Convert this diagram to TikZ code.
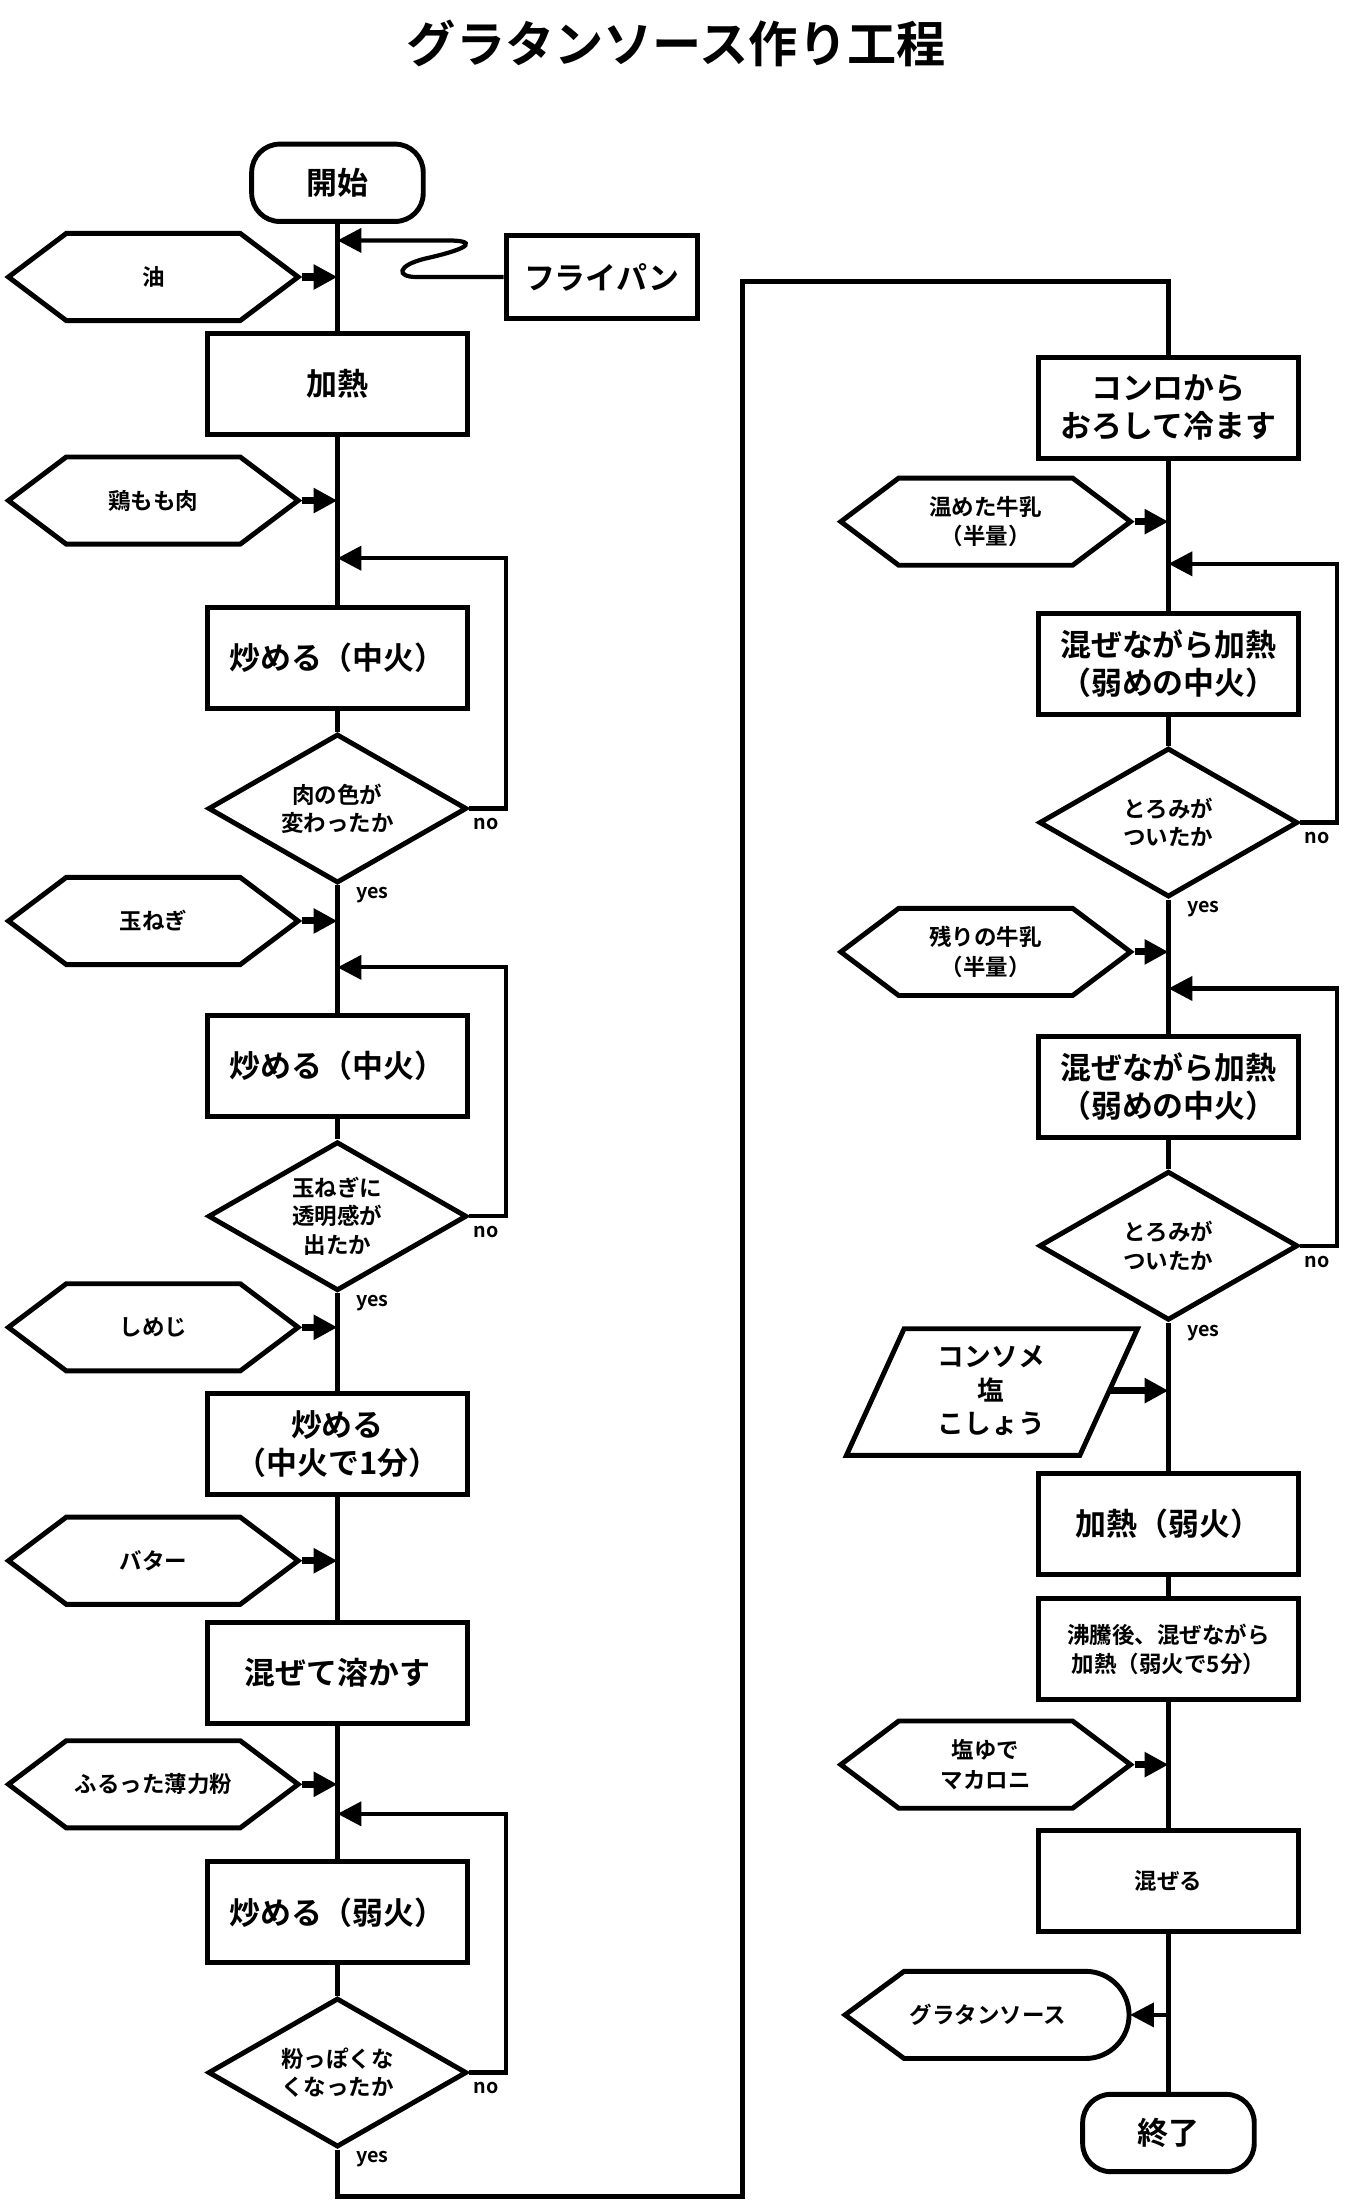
\documentclass[tikz,border=0pt]{standalone}
\usepackage{fontspec}
\setmainfont{Noto Sans CJK JP}[BoldFont={* Bold}]
\usetikzlibrary{arrows.meta,shapes.geometric,shapes.symbols}

\begin{document}
\begin{tikzpicture}[x=1pt,y=-1pt,
    forma/.style={draw,line width=3.5pt,fill=white,align=center,inner sep=0pt,
        font=\bfseries\fontsize{22}{27}\selectfont},
    caja/.style={forma,minimum width=185pt,minimum height=72pt},
    terminal/.style={forma,rounded corners=20pt,minimum width=122pt,minimum height=55pt},
    entrada/.style={forma,signal,signal to=west and east,signal pointer angle=74,
        minimum width=206pt,minimum height=62pt,font=\bfseries\fontsize{16}{21}\selectfont},
    decision/.style={forma,diamond,aspect=1.73,minimum width=184pt,minimum height=106pt,
        font=\bfseries\fontsize{16}{20}\selectfont},
    linea/.style={line width=3.5pt},
    lazo/.style={line width=3pt,-{Triangle[length=17pt,width=17pt]}},
    flecha/.style={line width=5pt,-{Triangle[length=17pt,width=17pt]}},
    etiq/.style={inner sep=0pt,font=\bfseries\fontsize{14}{14}\selectfont},
]

    \def\xa{240}
    \def\xb{831}

    %Fondo
    \fill[white] (0,0) rectangle (958,1567.5);
    \node[font=\bfseries\fontsize{35}{40}\selectfont] (titulo) at (481,31) {グラタンソース作り工程};

    %ColumnaIzq
    \node[terminal] (inicio) at (\xa,130) {開始};
    \node[caja] (calentar) at (\xa,273) {加熱};
    \node[caja] (sofreir1) at (\xa,468) {炒める（中火）};
    \node[decision] (d1) at (\xa,575) {肉の色が\\変わったか};
    \node[caja] (sofreir2) at (\xa,758) {炒める（中火）};
    \node[decision] (d2) at (\xa,865) {玉ねぎに\\透明感が\\出たか};
    \node[caja] (sofreir3) at (\xa,1027) {炒める\\（中火で1分）};
    \node[caja] (derretir) at (\xa,1190) {混ぜて溶かす};
    \node[caja] (sofreir4) at (\xa,1360) {炒める（弱火）};
    \node[decision] (d3) at (\xa,1474) {粉っぽくな\\くなったか};
    \node[forma,minimum width=136pt,minimum height=59pt] (sarten) at (428,197) {フライパン};

    %ColumnaDer
    \node[caja] (enfriar) at (\xb,290) {コンロから\\おろして冷ます};
    \node[caja] (mezclar1) at (\xb,472) {混ぜながら加熱\\（弱めの中火）};
    \node[decision] (d4) at (\xb,585) {とろみが\\ついたか};
    \node[caja] (mezclar2) at (\xb,773) {混ぜながら加熱\\（弱めの中火）};
    \node[decision] (d5) at (\xb,886) {とろみが\\ついたか};
    \node[caja] (calor) at (\xb,1084) {加熱（弱火）};
    \node[caja,font=\bfseries\fontsize{16}{21}\selectfont] (hervir) at (\xb,1173) {沸騰後、混ぜながら\\加熱（弱火で5分）};
    \node[caja,font=\bfseries\fontsize{16}{21}\selectfont] (mezclar) at (\xb,1338) {混ぜる};
    \node[terminal] (fin) at (\xb,1517) {終了};

    %Condimentos
    \draw[line width=3.5pt] (602,1035) -- (643,945) -- (809,945) -- (768,1035) -- cycle;
    \node[inner sep=0pt,minimum width=167pt,align=center,font=\bfseries\fontsize{19}{24}\selectfont] (condimento) at (705,989) {コンソメ\\塩\\こしょう};

    %Salsa
    \draw[line width=3.5pt] (601,1433) -- (643,1402) -- (772,1402) arc[start angle=-90,end angle=90,radius=31] -- (643,1464) -- cycle;
    \node[inner sep=0pt,minimum width=202pt,font=\bfseries\fontsize{16}{21}\selectfont] (salsa) at (702.5,1433) {グラタンソース};

    %Entradas
    \foreach \n/\y/\t in {aceite/197/油, pollo/356/鶏もも肉, cebolla/655/玉ねぎ, shimeji/944/しめじ, mantequilla/1110/バター, harina/1269/ふるった薄力粉}{
        \node[entrada] (\n) at (109,\y) {\t};
        \draw[flecha] (\n.east) -- (\n.east -| inicio);
    }
    \foreach \n/\y/\t in {leche1/371/{温めた牛乳\\（半量）}, leche2/677/{残りの牛乳\\（半量）}, macarrones/1255/{塩ゆで\\マカロニ}}{
        \node[entrada] (\n) at (701,\y) {\t};
        \draw[flecha] (\n.east) -- (\n.east -| fin);
    }
    \draw[flecha] (condimento.east) -- (condimento.east -| fin);
    \draw[lazo] (salsa -| fin) -- (salsa.east);

    %Lineas
    \foreach \a/\b in {inicio/calentar, calentar/sofreir1, sofreir1/d1, d1/sofreir2, sofreir2/d2, d2/sofreir3, sofreir3/derretir, derretir/sofreir4, sofreir4/d3, enfriar/mezclar1, mezclar1/d4, d4/mezclar2, mezclar2/d5, d5/calor, calor/hervir, hervir/mezclar, mezclar/fin}
        \draw[linea] (\a.south) -- (\b.north);

    %Sarten
    \coordinate (p1) at (\xa,171);
    \draw[lazo] (sarten.west) -- (296,197) .. controls (282,197) and (282,189) .. (302,184) .. controls (338,176) and (338,171) .. (318,171) -- (p1);

    %Lazos
    \coordinate (l1) at (\xa,397);
    \coordinate (l2) at (\xa,688);
    \coordinate (l3) at (\xa,1290);
    \coordinate (l4) at (\xb,401);
    \coordinate (l5) at (\xb,703);
    \foreach \d/\l in {d1/l1, d2/l2, d3/l3, d4/l4, d5/l5}{
        \draw[lazo] (\d.east) -- ++(26,0) |- (\l);
        \node[etiq,anchor=north west] (no\d) at ([xshift=3pt,yshift=-7pt]\d.east) {no};
        \node[etiq,anchor=west] (si\d) at ([xshift=13pt,yshift=-7pt]\d.south) {yes};
    }

    %Cambio de columna
    \coordinate (r1) at (528,1562);
    \coordinate (r2) at (528,200);
    \draw[linea] (d3.south) |- (r1) -- (r2) -| (enfriar.north);

\end{tikzpicture}
\end{document}
